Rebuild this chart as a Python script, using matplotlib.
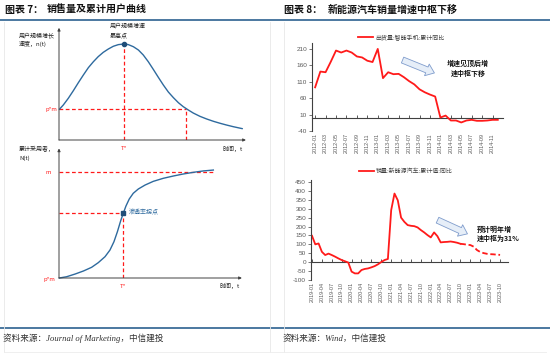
import matplotlib
matplotlib.use('Agg')
import matplotlib.pyplot as plt
from matplotlib.patches import FancyArrowPatch
from matplotlib.lines import Line2D
import pandas as pd

plt.rcParams['font.family'] = ['Liberation Sans', 'Noto Sans CJK SC', 'DejaVu Sans']
CJK = ['Noto Sans CJK SC', 'DejaVu Sans']

# ---------------- data ----------------
# Fig 7 (schematic Bass curves)
adopt_t = [0.02, 0.23, 0.50, 0.77, 1.04, 1.31, 1.58, 1.85, 2.11, 2.38, 2.65, 2.92,
           3.19, 3.49, 3.73, 4.00, 4.27, 4.53, 4.80, 5.07, 5.34, 5.61, 5.88, 6.15,
           6.42, 6.68, 6.95, 7.22, 7.58, 7.94, 8.30, 8.66, 9.01, 9.37, 9.86]
adopt_rate = [2.79, 3.18, 3.79, 4.48, 5.21, 5.91, 6.58, 7.12, 7.58, 7.97, 8.27, 8.52,
              8.67, 8.73, 8.67, 8.48, 8.18, 7.73, 7.12, 6.42, 5.70, 5.00, 4.36, 3.85,
              3.39, 3.03, 2.73, 2.45, 2.15, 1.91, 1.70, 1.52, 1.36, 1.21, 1.03]
peak_t, peak_rate = 3.49, 8.73
pm_level_top = 2.79
pm_cross_t = 6.85

cum_t = [0.02, 0.42, 0.88, 1.34, 1.79, 2.16, 2.53, 2.80, 3.02, 3.21, 3.39, 3.53,
         3.68, 3.86, 4.08, 4.36, 4.73, 5.18, 5.73, 6.28, 6.83, 7.38, 7.93, 8.48]
cum_users = [0.0, 0.10, 0.31, 0.55, 0.84, 1.21, 1.68, 2.20, 2.86, 3.65, 4.51, 5.09,
             5.67, 6.22, 6.67, 7.01, 7.32, 7.61, 7.85, 8.03, 8.19, 8.32, 8.43, 8.50]
inflect_t, inflect_N = 3.53, 5.09
m_level = 8.32

# Fig 8 top: smartphone shipments, cumulative YoY (%)
phone_months = [p.strftime('%Y-%m') for p in pd.period_range('2012-01', '2014-12', freq='M')]
phone_yoy = [93, 141, 139, 171, 205, 199, 205, 199, 187, 184, 174, 170,
             210, 121, 139, 133, 134, 124, 112, 102, 87, 78, 71, 65,
             1, 7, -8, -8, -14, -8, -6, -9, -9, -8, -6, -6]
phone_yticks = [-40, 10, 60, 110, 160, 210]
phone_label = '出货量:智能手机:累计同比'

# Fig 8 bottom: NEV sales, cumulative YoY (%)
nev_months = [p.strftime('%Y-%m') for p in pd.period_range('2019-01', '2023-10', freq='M')]
nev_yoy = [148, 100, 105, 58, 40, 48, 40, 31, 21, 12, 5, -2,
           -53, -63, -63, -44, -38, -35, -29, -22, -12, 1, 12, 18,
           292, 385, 347, 250, 226, 208, 204, 202, 195, 180, 167, 152,
           139, 167, 146, 111, 113, 114, 116, 113, 109, 103, 101, 98,
           96, 87, 68, 57, 51, 47, 45, 44, 42, 41]
nev_forecast_start = 45
nev_yticks = [-100, -50, 0, 50, 100, 150, 200, 250, 300, 350, 400, 450]
nev_label = '销量:新能源汽车:累计值:同比'

# ---------------- layout helpers ----------------
W, H = 550, 356
def fx(x): return x / W
def fy(y): return 1 - y / H
def box(x0, y0, x1, y1): return [fx(x0), fy(y1), (x1 - x0) / W, (y1 - y0) / H]

fig = plt.figure(figsize=(5.5, 3.56), dpi=100)
fig.patch.set_facecolor('white')

def ftext(x, y, s, **kw):
    kw.setdefault('family', CJK)
    kw.setdefault('va', 'center')
    fig.text(fx(x), fy(y), s, **kw)

def fline(xs, ys, **kw):
    fig.add_artist(Line2D([fx(v) for v in xs], [fy(v) for v in ys], transform=fig.transFigure, **kw))

BLUE_RULE = '#3d6d99'
# header / footer rules and panel borders
fline([0, 550], [20, 20], color=BLUE_RULE, lw=1.3)
fline([0, 550], [328, 328], color=BLUE_RULE, lw=1.3)
for xv in (4, 270, 284):
    fline([xv, xv], [22, 352], color='#e8e8e8', lw=0.6)
fline([4, 546], [352, 352], color='#ececec', lw=0.6)

# titles
ftext(5, 10, '图表 7：', fontsize=7.2, fontweight='bold', color='#111111')
ftext(47, 10, '销售量及累计用户曲线', fontsize=7.2, fontweight='bold', color='#111111')
ftext(284, 10, '图表 8：', fontsize=7.2, fontweight='bold', color='#111111')
ftext(328, 10, '新能源汽车销量增速中枢下移', fontsize=7.2, fontweight='bold', color='#111111')

# sources
src_family = ['Liberation Serif', 'Noto Sans CJK SC']
ftext(3, 338, '资料来源：Journal of Marketing，中信建投', fontsize=6.2, style='italic',
      family=src_family, color='#333333')
ftext(283, 338, '资料来源：Wind，中信建投', fontsize=6.2, style='italic',
      family=src_family, color='#333333')

CURVE = '#2e6a9e'
RED = '#ff1a1a'
AXC = '#404040'
dash = (0, (3, 2))
ann_fs = 4.3

def schematic_axes(ax):
    ax.set_xlim(0, 10)
    ax.set_ylim(0, 10)
    ax.axis('off')
    ax.annotate('', xy=(0, 10.2), xytext=(0, 0), xycoords='data',
                arrowprops=dict(arrowstyle='-|>', lw=0.7, color=AXC, mutation_scale=4,
                                shrinkA=0, shrinkB=0), annotation_clip=False)
    ax.annotate('', xy=(10.05, 0), xytext=(0, 0), xycoords='data',
                arrowprops=dict(arrowstyle='-|>', lw=0.7, color=AXC, mutation_scale=4,
                                shrinkA=0, shrinkB=0), annotation_clip=False)

# ---- Fig 7 top ----
ax1 = fig.add_axes(box(59, 30, 245, 140))
schematic_axes(ax1)
ax1.plot([0, pm_cross_t], [pm_level_top, pm_level_top], color=RED, lw=0.9, ls=dash)
ax1.plot([peak_t, peak_t], [0, peak_rate], color=RED, lw=0.9, ls=dash)
ax1.plot([pm_cross_t, pm_cross_t], [0, pm_level_top], color=RED, lw=0.9, ls=dash)
ax1.plot(adopt_t, adopt_rate, color=CURVE, lw=1.0, solid_capstyle='round',
         solid_joinstyle='round', clip_on=False)
ax1.plot([peak_t], [peak_rate], 'o', color='#1f4e79', ms=3, clip_on=False)

ftext(19, 35, '用户规模增长', fontsize=ann_fs, color='#222222')
ftext(19, 44, '速度，n(t)', fontsize=ann_fs, color='#222222')
ftext(110, 26, '用户规模增速', fontsize=ann_fs, color='#222222')
ftext(110, 35, '最高点', fontsize=ann_fs, color='#222222')
ftext(57, 109, 'p*m', fontsize=ann_fs, color=RED, ha='right')
ftext(124, 148, 'T*', fontsize=ann_fs, color=RED, ha='center')
ftext(223, 149, '时间，t', fontsize=ann_fs, color='#222222')

# ---- Fig 7 bottom ----
ax2 = fig.add_axes(box(59, 151, 241, 278))
schematic_axes(ax2)
ax2.plot([0, cum_t[-1]], [m_level, m_level], color=RED, lw=0.9, ls=dash)
ax2.plot([0, inflect_t], [inflect_N, inflect_N], color=RED, lw=0.9, ls=dash)
ax2.plot([inflect_t, inflect_t], [0, inflect_N], color=RED, lw=0.9, ls=dash)
ax2.plot(cum_t, cum_users, color=CURVE, lw=1.0, solid_joinstyle='round', clip_on=False)
ax2.plot([inflect_t], [inflect_N], 's', color='#1f4e79', ms=2.6, clip_on=False)

ftext(19, 149, '累计采用者，', fontsize=ann_fs, color='#222222')
ftext(19, 158, 'N(t)', fontsize=ann_fs, color='#222222')
ftext(48, 173, 'm', fontsize=ann_fs, color=RED, ha='center')
ftext(55, 279, 'p*m', fontsize=ann_fs, color=RED, ha='right')
ftext(129, 212, '渗透率拐点', fontsize=ann_fs, color=CURVE)
ftext(123, 286, 'T*', fontsize=ann_fs, color=RED, ha='center')
ftext(220, 286, '时间，t', fontsize=ann_fs, color='#222222')

# ---- Fig 8 charts ----
TICKC = '#595959'

def line_chart(ax, labels, values, yticks, ylim, xlim, step):
    idx = list(range(len(labels)))
    ax.set_xlim(*xlim)
    ax.set_ylim(*ylim)
    ax.set_yticks(yticks)
    ax.set_yticklabels([str(v) for v in yticks], fontsize=4.6, color=TICKC)
    ax.tick_params(axis='y', length=2, width=0.5, pad=1.5, color=AXC)
    for s in ('top', 'right', 'bottom'):
        ax.spines[s].set_visible(False)
    ax.spines['left'].set_color(AXC)
    ax.spines['left'].set_linewidth(0.8)
    ticks = idx[::step]
    ax.set_xticks(ticks)
    ax.set_xticklabels([labels[i] for i in ticks], rotation=90, fontsize=3.9, color=TICKC)
    ax.tick_params(axis='x', length=0, pad=1.5)
    frac = (0 - ylim[0]) / (ylim[1] - ylim[0])
    sec = ax.secondary_xaxis(frac)
    sec.set_xticks(ticks)
    sec.set_xticklabels([])
    sec.tick_params(direction='in', length=2.5, width=0.6, color=AXC)
    sec.spines['bottom'].set_color(AXC)
    sec.spines['bottom'].set_linewidth(0.8)
    return idx

ax3 = fig.add_axes(box(312, 43, 503, 131))
idx3 = line_chart(ax3, phone_months, phone_yoy, phone_yticks, (-40, 228), (-0.6, 36), 2)
l3, = ax3.plot(idx3, phone_yoy, color=RED, lw=1.3, label=phone_label)
ax3.legend(handles=[l3], loc='center', bbox_to_anchor=(fx(401), fy(37)),
           bbox_transform=fig.transFigure, frameon=False, handlelength=2.6,
           handletextpad=0.3, prop={'family': CJK, 'size': 4.3}, labelcolor='#404040')

ax4 = fig.add_axes(box(311, 180, 508, 280))
idx4 = line_chart(ax4, nev_months, nev_yoy, nev_yticks, (-100, 461), (-0.3, 59.4), 3)
k = nev_forecast_start
l4, = ax4.plot(idx4[:k + 1], nev_yoy[:k + 1], color=RED, lw=1.3, label=nev_label)
ax4.plot(idx4[k:], nev_yoy[k:], color=RED, lw=1.3, ls=(0, (3, 1.5)))
ax4.legend(handles=[l4], loc='center', bbox_to_anchor=(fx(406), fy(171)),
           bbox_transform=fig.transFigure, frameon=False, handlelength=2.6,
           handletextpad=0.3, prop={'family': CJK, 'size': 4.3}, labelcolor='#404040')

# hollow block arrows and comments
def block_arrow(x0, y0, x1, y1):
    p = FancyArrowPatch((fx(x0), fy(y0)), (fx(x1), fy(y1)), transform=fig.transFigure,
                        arrowstyle='simple,head_width=1.0,head_length=0.65,tail_width=0.5',
                        mutation_scale=9, facecolor='#e6eef8', edgecolor='#7f9ccc', lw=0.6)
    fig.add_artist(p)

block_arrow(400, 59, 437, 74)
ftext(468, 63, '增速见顶后增', fontsize=5.0, fontweight='bold', ha='center', color='#111111')
ftext(468, 73, '速中枢下移', fontsize=5.0, fontweight='bold', ha='center', color='#111111')

block_arrow(435, 219, 470, 235)
ftext(477, 229, '预计明年增', fontsize=5.0, fontweight='bold', color='#111111')
ftext(477, 238, '速中枢为31%', fontsize=5.0, fontweight='bold', color='#111111')

fig.savefig('out.png', dpi=100, facecolor='white')
